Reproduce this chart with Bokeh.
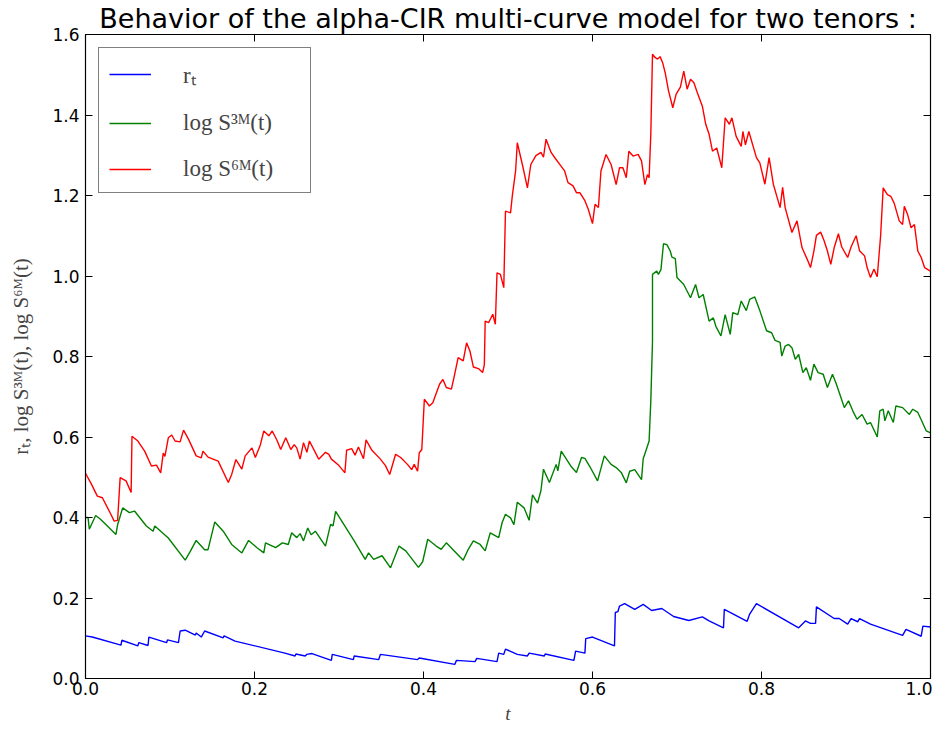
from bokeh.plotting import figure
from bokeh.models import Range1d, FixedTicker, LinearAxis, Legend, LegendItem
from bokeh.embed import file_html
from bokeh.resources import INLINE

TITLE = "Behavior of the alpha-CIR multi-curve model for two tenors :"
X_LABEL = "t"
Y_LABEL = "rₜ, log S³ᴹ(t), log S⁶ᴹ(t)"
LEGEND_LABELS = ["rₜ", "log S³ᴹ(t)", "log S⁶ᴹ(t)"]

x_ticks = [0.0, 0.2, 0.4, 0.6, 0.8, 1.0]
x_tick_labels = ["0.0", "0.2", "0.4", "0.6", "0.8", "1.0"]
y_ticks = [0.0, 0.2, 0.4, 0.6, 0.8, 1.0, 1.2, 1.4, 1.6]
y_tick_labels = ["0.0", "0.2", "0.4", "0.6", "0.8", "1.0", "1.2", "1.4", "1.6"]

# r_t (short rate)
t_r = [0.000, 0.008, 0.042, 0.043, 0.062, 0.063, 0.074, 0.075, 0.096, 0.097,
       0.110, 0.112, 0.118, 0.130, 0.131, 0.137, 0.141, 0.163, 0.164, 0.177,
       0.236, 0.248, 0.249, 0.260, 0.262, 0.268, 0.291, 0.292, 0.317, 0.318,
       0.347, 0.349, 0.393, 0.395, 0.437, 0.439, 0.461, 0.463, 0.487, 0.489,
       0.495, 0.497, 0.511, 0.523, 0.525, 0.543, 0.544, 0.578, 0.580, 0.591,
       0.592, 0.600, 0.626, 0.627, 0.630, 0.632, 0.638, 0.650, 0.660, 0.670,
       0.682, 0.696, 0.714, 0.730, 0.738, 0.755, 0.756, 0.783, 0.786, 0.794,
       0.844, 0.852, 0.858, 0.864, 0.865, 0.886, 0.892, 0.902, 0.906, 0.914,
       0.916, 0.929, 0.967, 0.971, 0.989, 0.991, 1.000]
r_vals = [0.106, 0.103, 0.083, 0.095, 0.081, 0.089, 0.082, 0.103, 0.089, 0.096,
          0.089, 0.118, 0.120, 0.108, 0.113, 0.103, 0.118, 0.101, 0.106, 0.093,
          0.063, 0.056, 0.061, 0.056, 0.060, 0.062, 0.045, 0.060, 0.047, 0.056,
          0.047, 0.060, 0.047, 0.051, 0.035, 0.045, 0.042, 0.050, 0.042, 0.063,
          0.060, 0.073, 0.060, 0.056, 0.063, 0.056, 0.061, 0.045, 0.068, 0.063,
          0.099, 0.103, 0.081, 0.164, 0.166, 0.180, 0.186, 0.172, 0.184, 0.169,
          0.174, 0.154, 0.144, 0.153, 0.143, 0.126, 0.172, 0.142, 0.160, 0.186,
          0.126, 0.143, 0.137, 0.137, 0.178, 0.149, 0.149, 0.135, 0.149, 0.141,
          0.149, 0.135, 0.107, 0.122, 0.105, 0.130, 0.128]

# log S^{3M}(t)
t_3m = [0.000, 0.003, 0.0045, 0.012, 0.017, 0.022, 0.036, 0.038, 0.044, 0.052,
        0.058, 0.072, 0.080, 0.082, 0.098, 0.118, 0.124, 0.131, 0.141, 0.145,
        0.153, 0.163, 0.173, 0.185, 0.193, 0.203, 0.211, 0.213, 0.225, 0.233,
        0.240, 0.244, 0.250, 0.254, 0.258, 0.263, 0.267, 0.272, 0.284, 0.290,
        0.293, 0.296, 0.318, 0.331, 0.335, 0.341, 0.351, 0.361, 0.371, 0.379,
        0.394, 0.399, 0.405, 0.415, 0.421, 0.427, 0.447, 0.453, 0.459, 0.467,
        0.473, 0.479, 0.489, 0.493, 0.497, 0.503, 0.507, 0.511, 0.519, 0.525,
        0.529, 0.535, 0.539, 0.542, 0.549, 0.557, 0.559, 0.563, 0.575, 0.581,
        0.587, 0.591, 0.597, 0.606, 0.614, 0.622, 0.628, 0.634, 0.640, 0.644,
        0.650, 0.658, 0.660, 0.664, 0.667, 0.669, 0.671, 0.671, 0.676, 0.678,
        0.681, 0.684, 0.688, 0.692, 0.694, 0.698, 0.700, 0.708, 0.716, 0.722,
        0.726, 0.731, 0.738, 0.743, 0.746, 0.752, 0.757, 0.763, 0.766, 0.772,
        0.776, 0.782, 0.786, 0.792, 0.798, 0.806, 0.812, 0.816, 0.822, 0.824,
        0.828, 0.832, 0.836, 0.840, 0.844, 0.849, 0.853, 0.858, 0.862, 0.867,
        0.873, 0.878, 0.884, 0.888, 0.894, 0.898, 0.903, 0.908, 0.913, 0.919,
        0.925, 0.929, 0.937, 0.940, 0.944, 0.946, 0.950, 0.956, 0.959, 0.967,
        0.975, 0.979, 0.985, 0.989, 0.995, 1.000]
s3m_vals = [0.400, 0.400, 0.371, 0.405, 0.397, 0.387, 0.358, 0.382, 0.424, 0.412,
            0.416, 0.379, 0.366, 0.379, 0.349, 0.294, 0.316, 0.343, 0.320, 0.320,
            0.389, 0.366, 0.333, 0.312, 0.343, 0.325, 0.312, 0.337, 0.325, 0.337,
            0.333, 0.362, 0.350, 0.360, 0.342, 0.374, 0.357, 0.366, 0.329, 0.383,
            0.379, 0.415, 0.342, 0.296, 0.312, 0.296, 0.305, 0.275, 0.329, 0.317,
            0.276, 0.290, 0.346, 0.329, 0.321, 0.337, 0.294, 0.321, 0.342, 0.333,
            0.317, 0.362, 0.350, 0.387, 0.408, 0.399, 0.382, 0.438, 0.424, 0.393,
            0.456, 0.436, 0.467, 0.520, 0.487, 0.532, 0.516, 0.565, 0.526, 0.512,
            0.549, 0.547, 0.526, 0.491, 0.553, 0.532, 0.524, 0.512, 0.486, 0.515,
            0.519, 0.494, 0.546, 0.571, 0.590, 0.689, 0.838, 1.004, 1.012, 1.004,
            1.016, 1.080, 1.078, 1.062, 1.047, 1.043, 0.996, 0.979, 0.946, 0.979,
            0.946, 0.954, 0.888, 0.896, 0.875, 0.851, 0.904, 0.855, 0.909, 0.904,
            0.938, 0.914, 0.942, 0.948, 0.914, 0.864, 0.859, 0.840, 0.835, 0.801,
            0.826, 0.830, 0.822, 0.793, 0.805, 0.760, 0.772, 0.741, 0.781, 0.760,
            0.756, 0.723, 0.756, 0.735, 0.698, 0.673, 0.690, 0.665, 0.644, 0.656,
            0.632, 0.636, 0.600, 0.665, 0.669, 0.640, 0.665, 0.636, 0.677, 0.673,
            0.656, 0.669, 0.661, 0.643, 0.615, 0.610]

# log S^{6M}(t)
t_6m = [0.000, 0.007, 0.014, 0.020, 0.030, 0.034, 0.038, 0.041, 0.048, 0.054,
        0.055, 0.062, 0.070, 0.078, 0.084, 0.089, 0.092, 0.094, 0.098, 0.102,
        0.106, 0.112, 0.116, 0.122, 0.131, 0.137, 0.139, 0.145, 0.157, 0.169,
        0.173, 0.178, 0.185, 0.189, 0.197, 0.201, 0.207, 0.211, 0.217, 0.221,
        0.227, 0.231, 0.237, 0.243, 0.247, 0.250, 0.254, 0.258, 0.262, 0.265,
        0.276, 0.284, 0.288, 0.291, 0.300, 0.307, 0.309, 0.315, 0.319, 0.323,
        0.329, 0.332, 0.339, 0.349, 0.355, 0.360, 0.367, 0.373, 0.381, 0.386,
        0.389, 0.393, 0.395, 0.398, 0.401, 0.407, 0.411, 0.419, 0.423, 0.427,
        0.433, 0.436, 0.441, 0.447, 0.451, 0.455, 0.459, 0.465, 0.470, 0.472,
        0.473, 0.477, 0.482, 0.485, 0.487, 0.491, 0.495, 0.497, 0.503, 0.505,
        0.509, 0.511, 0.517, 0.523, 0.527, 0.533, 0.539, 0.542, 0.545, 0.551,
        0.555, 0.561, 0.567, 0.571, 0.577, 0.581, 0.585, 0.591, 0.595, 0.600,
        0.603, 0.607, 0.610, 0.616, 0.622, 0.628, 0.632, 0.636, 0.640, 0.643,
        0.648, 0.654, 0.658, 0.662, 0.665, 0.667, 0.669, 0.671, 0.674, 0.677,
        0.680, 0.683, 0.686, 0.690, 0.695, 0.699, 0.704, 0.708, 0.712, 0.716,
        0.720, 0.724, 0.730, 0.734, 0.738, 0.742, 0.747, 0.753, 0.757, 0.762,
        0.765, 0.770, 0.776, 0.778, 0.781, 0.785, 0.794, 0.798, 0.804, 0.809,
        0.814, 0.818, 0.822, 0.825, 0.828, 0.836, 0.842, 0.848, 0.854, 0.858,
        0.862, 0.865, 0.870, 0.874, 0.878, 0.882, 0.886, 0.891, 0.895, 0.902,
        0.906, 0.912, 0.916, 0.922, 0.925, 0.929, 0.933, 0.937, 0.941, 0.944,
        0.949, 0.953, 0.957, 0.963, 0.967, 0.969, 0.973, 0.977, 0.981, 0.985,
        0.989, 0.993, 1.000]
s6m_vals = [0.510, 0.483, 0.453, 0.449, 0.408, 0.391, 0.393, 0.499, 0.491, 0.462,
            0.602, 0.590, 0.565, 0.528, 0.530, 0.511, 0.560, 0.552, 0.598, 0.605,
            0.590, 0.588, 0.617, 0.594, 0.553, 0.548, 0.565, 0.550, 0.540, 0.487,
            0.507, 0.544, 0.520, 0.553, 0.573, 0.549, 0.581, 0.615, 0.603, 0.615,
            0.590, 0.569, 0.598, 0.569, 0.581, 0.573, 0.545, 0.586, 0.562, 0.590,
            0.545, 0.562, 0.557, 0.545, 0.529, 0.511, 0.567, 0.571, 0.555, 0.575,
            0.546, 0.593, 0.567, 0.545, 0.529, 0.507, 0.557, 0.549, 0.532, 0.519,
            0.532, 0.515, 0.561, 0.569, 0.694, 0.677, 0.685, 0.731, 0.743, 0.723,
            0.719, 0.747, 0.797, 0.789, 0.834, 0.813, 0.774, 0.770, 0.760, 0.780,
            0.888, 0.884, 0.905, 0.880, 1.008, 1.004, 0.971, 1.161, 1.157, 1.197,
            1.261, 1.331, 1.277, 1.219, 1.277, 1.299, 1.307, 1.295, 1.340, 1.307,
            1.295, 1.278, 1.261, 1.232, 1.224, 1.207, 1.207, 1.187, 1.166, 1.130,
            1.178, 1.170, 1.261, 1.302, 1.277, 1.227, 1.269, 1.269, 1.244, 1.310,
            1.298, 1.302, 1.286, 1.227, 1.252, 1.244, 1.352, 1.551, 1.543, 1.539,
            1.545, 1.530, 1.505, 1.460, 1.418, 1.452, 1.469, 1.509, 1.464, 1.489,
            1.480, 1.456, 1.422, 1.377, 1.352, 1.310, 1.318, 1.269, 1.393, 1.377,
            1.393, 1.347, 1.322, 1.359, 1.326, 1.359, 1.294, 1.281, 1.228, 1.294,
            1.228, 1.199, 1.170, 1.220, 1.170, 1.108, 1.137, 1.070, 1.042, 1.021,
            1.062, 1.101, 1.109, 1.088, 1.062, 1.029, 1.070, 1.105, 1.072, 1.046,
            1.072, 1.100, 1.063, 1.050, 1.021, 0.996, 1.017, 0.998, 1.101, 1.219,
            1.202, 1.198, 1.181, 1.137, 1.128, 1.173, 1.152, 1.120, 1.128, 1.062,
            1.046, 1.021, 1.012]

TICK_FONT = "DejaVu Sans"
MATH_FONT = "Liberation Serif"

p = figure(width=932, height=726, output_backend="svg", toolbar_location=None,
           x_range=Range1d(0, 1), y_range=Range1d(0, 1.6),
           min_border_left=85, min_border_right=2, min_border_top=10,
           min_border_bottom=40, background_fill_color="white",
           border_fill_color="white")

p.title.text = TITLE
p.title.text_font = TICK_FONT
p.title.text_font_size = "27px"
p.title.text_font_style = "normal"
p.title.text_color = "black"
p.title.align = "center"
p.title.standoff = 1

p.grid.visible = False
p.outline_line_color = "black"
p.outline_line_width = 1.2

r1 = p.line(t_r, r_vals, line_color="#0000ff", line_width=1.4)
r2 = p.line(t_3m, s3m_vals, line_color="#008000", line_width=1.4)
r3 = p.line(t_6m, s6m_vals, line_color="#ff0000", line_width=1.4)

def style_axis(ax, ticks, labels, show_labels=True):
    ax.ticker = FixedTicker(ticks=ticks)
    ax.major_tick_in = 7
    ax.major_tick_out = 0
    ax.minor_tick_line_color = None
    ax.axis_line_color = "black"
    ax.major_tick_line_color = "black"
    ax.major_label_text_font = TICK_FONT
    if show_labels:
        ax.major_label_overrides = {t: l for t, l in zip(ticks, labels)}
        ax.major_label_text_color = "black"
        ax.major_label_text_font_size = "17px"
        ax.major_label_standoff = 5
    else:
        ax.major_label_text_color = None
        ax.major_label_text_alpha = 0
        ax.major_label_text_font_size = "1px"
        ax.major_label_standoff = 0
        ax.axis_label_standoff = 0

xa = p.xaxis[0]
ya = p.yaxis[0]
style_axis(xa, x_ticks, x_tick_labels)
style_axis(ya, y_ticks, y_tick_labels)
xa.major_label_standoff = 3
ya.major_label_standoff = 6

xa.axis_label = X_LABEL
xa.axis_label_text_font = MATH_FONT
xa.axis_label_text_font_style = "italic"
xa.axis_label_text_font_size = "19px"
xa.axis_label_standoff = 5

ya.axis_label = Y_LABEL
ya.axis_label_text_font = MATH_FONT
ya.axis_label_text_font_style = "normal"
ya.axis_label_text_font_size = "21px"
ya.axis_label_standoff = 16

top_ax = LinearAxis()
style_axis(top_ax, x_ticks, x_tick_labels, show_labels=False)
p.add_layout(top_ax, "above")
right_ax = LinearAxis()
style_axis(right_ax, y_ticks, y_tick_labels, show_labels=False)
p.add_layout(right_ax, "right")

legend = Legend(items=[LegendItem(label=LEGEND_LABELS[0], renderers=[r1]),
                       LegendItem(label=LEGEND_LABELS[1], renderers=[r2]),
                       LegendItem(label=LEGEND_LABELS[2], renderers=[r3])],
                location="top_left")
legend.margin = 13
legend.padding = 10
legend.spacing = 20
legend.glyph_width = 42
legend.glyph_height = 22
legend.label_height = 22
legend.label_width = 117
legend.label_standoff = 32
legend.label_text_font = MATH_FONT
legend.label_text_font_size = "23px"
legend.border_line_color = "black"
legend.border_line_width = 1.2
legend.background_fill_color = "white"
legend.background_fill_alpha = 1.0
p.add_layout(legend, "center")

open("out.html", "w").write(file_html(p, INLINE))
